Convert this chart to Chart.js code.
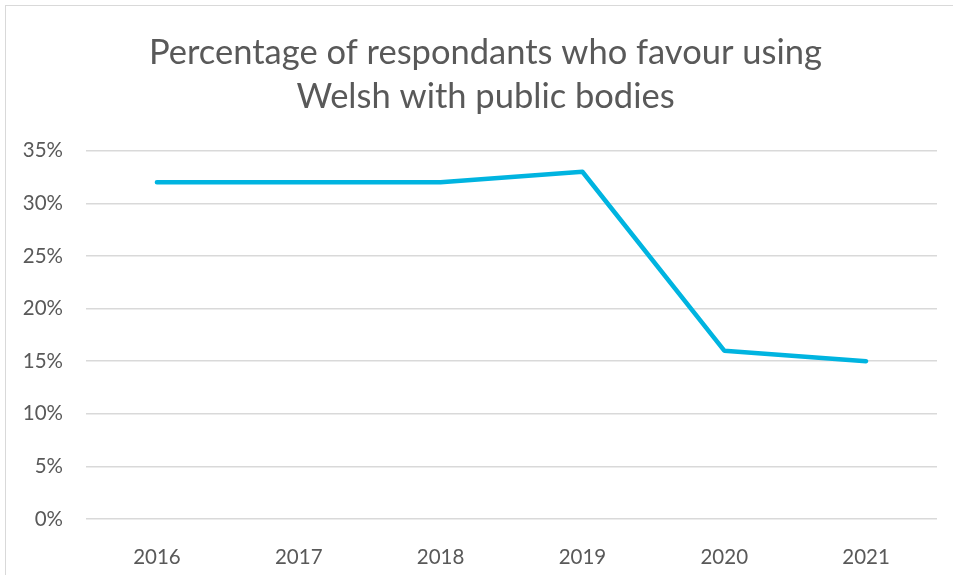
<!DOCTYPE html>
<html>
<head>
<meta charset="utf-8">
<script src="https://cdn.jsdelivr.net/npm/chart.js@4"></script>
<style>
    html, body { margin: 0; padding: 0; background: #fff; overflow: hidden; }
    #wrap { position: relative; width: 953px; height: 575px; }
    #frame {
        position: absolute; left: 5px; top: 5px; width: 1000px; height: 1000px;
        border: 1.5px solid #d9d9d9; pointer-events: none;
    }
</style>
</head>
<body>
<div id="wrap">
    <canvas id="welshChart" width="953" height="575"></canvas>
    <div id="frame"></div>
</div>
<script>
// Chart data
const years = ['2016', '2017', '2018', '2019', '2020', '2021'];
const favourWelsh = [32, 32, 32, 33, 16, 15];
const titleLines = ['Percentage of respondants who favour using', 'Welsh with public bodies'];

const textColour = '#595959';
const fontFamily = 'Lato, "Open Sans", sans-serif';

// The original title sits a little right of the canvas centre
const titleShift = {
    id: 'titleShift',
    afterLayout(chart) {
        if (chart.titleBlock) chart.titleBlock.left += 34;
    }
};

document.addEventListener('DOMContentLoaded', function() {
    const ctx = document.getElementById('welshChart').getContext('2d');

    new Chart(ctx, {
        type: 'line',
        data: {
            labels: years,
            datasets: [{
                label: 'Favour Welsh',
                data: favourWelsh,
                borderColor: '#00b4e0',
                borderWidth: 4.5,
                borderCapStyle: 'round',
                borderJoinStyle: 'round',
                pointRadius: 0,
                tension: 0,
                fill: false
            }]
        },
        options: {
            responsive: false,
            animation: false,
            layout: { padding: { top: 6, right: 16, bottom: 0, left: 0 } },
            plugins: {
                legend: { display: false },
                tooltip: { enabled: false },
                title: {
                    display: true,
                    text: titleLines,
                    color: textColour,
                    font: { family: fontFamily, size: 34.5, weight: 'normal', lineHeight: 1.3 },
                    padding: { top: 24, bottom: 31 }
                }
            },
            scales: {
                x: {
                    offset: true,
                    grid: { display: false },
                    border: { display: false },
                    ticks: {
                        color: textColour,
                        padding: 18,
                        font: { family: fontFamily, size: 20.5 }
                    },
                    afterFit: function(scale) { scale.height = 56; }
                },
                y: {
                    min: 0,
                    max: 35,
                    grid: { color: '#d9d9d9', lineWidth: 1.5, drawTicks: false },
                    border: { display: false },
                    ticks: {
                        stepSize: 5,
                        color: textColour,
                        padding: 23,
                        font: { family: fontFamily, size: 20.5 },
                        callback: function(value) { return value + '%'; }
                    },
                    afterFit: function(scale) { scale.width = 86; }
                }
            }
        },
        plugins: [titleShift]
    });
});
</script>
</body>
</html>
